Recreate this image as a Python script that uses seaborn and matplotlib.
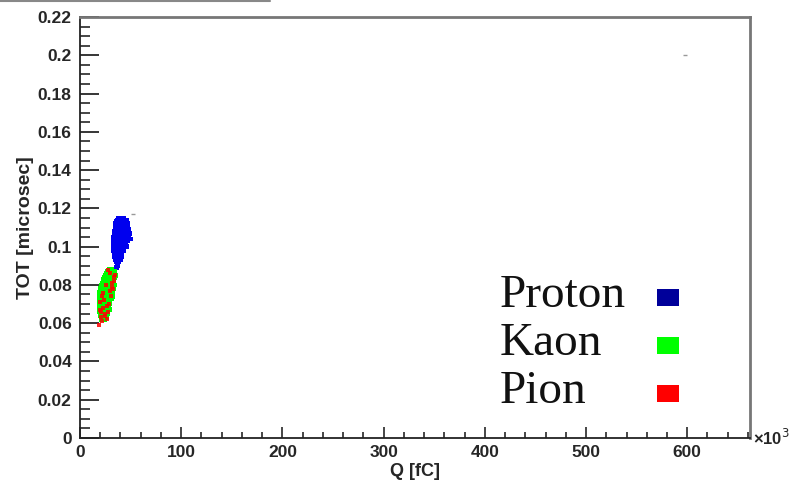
import numpy as np
import pandas as pd
import matplotlib
matplotlib.use("Agg")
import matplotlib.pyplot as plt
from matplotlib.lines import Line2D
from matplotlib.patches import Rectangle
from matplotlib.ticker import MultipleLocator, FormatStrFormatter
import seaborn as sns

# Proton cluster: TOT level [microsec] -> Q values [x10^3 fC]
proton_tot = [0.115, 0.114, 0.113, 0.112, 0.111, 0.110, 0.109, 0.108, 0.107, 0.106,
              0.105, 0.104, 0.103, 0.102, 0.101, 0.100, 0.099, 0.098, 0.097, 0.096,
              0.095, 0.094, 0.093, 0.092, 0.091, 0.090, 0.089]
proton_q = [[38, 40.5, 43], [36.5, 39, 41.5, 44, 46], [36, 38.5, 41, 43.5, 46.5],
            [35, 37.5, 40, 42.5, 45, 47.5], [35.5, 38, 40.5, 43, 45.5],
            [34.5, 37, 39.5, 42, 44.5, 47], [35, 37.5, 40, 42.5, 45, 48],
            [34, 36.5, 39, 41.5, 44, 46.5], [33.5, 36, 38.5, 41, 43.5, 46, 49],
            [34, 36.5, 39, 41.5, 44, 47], [33, 35.5, 38, 40.5, 43, 45.5, 48.5],
            [33.5, 36, 38.5, 41, 43.5, 46, 50], [32.5, 35, 37.5, 40, 42.5, 45, 47.5],
            [33, 35.5, 38, 40.5, 43, 45.5], [32.5, 35, 37.5, 40, 42.5, 45],
            [33, 35.5, 38, 40.5, 43, 46], [33.5, 36, 38.5, 41, 43.5],
            [33, 35.5, 38, 40.5, 43], [34, 36.5, 39, 41.5], [33.5, 36, 38.5, 41],
            [34, 36.5, 39, 41.5], [34.5, 37, 39.5], [35, 37.5, 40], [36, 38.5],
            [36.5], [37], [36]]

# Kaon cluster
kaon_tot = [0.088, 0.087, 0.086, 0.085, 0.084, 0.083, 0.082, 0.081, 0.080, 0.079,
            0.078, 0.077, 0.076, 0.075, 0.074, 0.073, 0.072, 0.071, 0.070, 0.069,
            0.068, 0.067, 0.066, 0.065, 0.064, 0.063, 0.062]
kaon_q = [[29, 31.5], [26.5, 29, 31.5, 34], [25.5, 28, 30.5, 33],
          [25, 27.5, 30, 32.5, 35], [24, 26.5, 29, 31.5, 34], [23.5, 26, 28.5, 31, 33.5],
          [23, 25.5, 28, 30.5, 33], [22.5, 25, 27.5, 30, 32.5],
          [21.5, 24, 26.5, 29, 31.5, 34], [21, 23.5, 26, 28.5, 31, 33],
          [20.5, 23, 25.5, 28, 30.5, 33], [20, 22.5, 25, 27.5, 30, 32],
          [19.5, 22, 24.5, 27, 29.5, 32], [19, 21.5, 24, 26.5, 29, 31.5],
          [19.5, 22, 24.5, 27, 29.5, 32], [19, 21.5, 24, 26.5, 29, 31],
          [19.5, 22, 24.5, 27, 29.5], [19, 21.5, 24, 26.5, 29],
          [19.5, 22, 24.5, 27, 29.5], [19, 21.5, 24, 26.5, 28.5],
          [19.5, 22, 24.5, 27], [19, 21.5, 24, 26.5, 29], [19.5, 22, 24.5, 27],
          [20, 22.5, 25, 27.5], [20.5, 23, 25.5], [21, 23.5, 26], [21.5, 24]]

# Pion hits (scattered over the kaon band)
pion_q = [19, 20.5, 22, 21, 23, 25, 27.5, 29, 31, 33, 34, 30, 28, 26, 24, 20,
          22.5, 32, 33.5, 29.5, 26.5, 24.5, 21.5, 27, 35, 31.5, 20]
pion_tot = [0.059, 0.063, 0.061, 0.066, 0.068, 0.064, 0.066, 0.070, 0.074, 0.078,
            0.082, 0.086, 0.088, 0.080, 0.072, 0.071, 0.076, 0.081, 0.084, 0.077,
            0.069, 0.065, 0.074, 0.062, 0.085, 0.079, 0.067]

# stray hits
stray_q = [52, 598]
stray_tot = [0.117, 0.200]

species = ["Proton", "Kaon", "Pion"]
colors = {"Proton": "#0000ee", "Kaon": "#00ff00", "Pion": "#ff0000"}
legend_colors = ["#00009a", "#00ff00", "#ff0000"]


def expand(levels, rows):
    q, t = [], []
    for lev, row in zip(levels, rows):
        q += row
        t += [lev] * len(row)
    return q, t


pq, pt = expand(proton_tot, proton_q)
kq, kt = expand(kaon_tot, kaon_q)
df = pd.DataFrame({
    "Q": pq + kq,
    "TOT": pt + kt,
    "particle": ["Proton"] * len(pq) + ["Kaon"] * len(kq),
})
pions = pd.DataFrame({"Q": pion_q, "TOT": pion_tot, "particle": "Pion"})

sns.set_style("white")
plt.rcParams["font.family"] = ["Liberation Sans", "DejaVu Sans"]

fig = plt.figure(figsize=(7.95, 4.82), dpi=100)
ax = fig.add_axes([80 / 795, 44 / 482, 670 / 795, 421 / 482])

sns.scatterplot(data=df, x="Q", y="TOT", hue="particle", palette=colors,
                marker="s", s=11, linewidth=0, legend=False, ax=ax)
sns.scatterplot(data=pions, x="Q", y="TOT", color=colors["Pion"], marker="s",
                s=6, linewidth=0, alpha=0.85, legend=False, ax=ax)
ax.scatter(stray_q, stray_tot, marker="_", s=12, color="#999999", linewidths=1)

ax.set_xlim(0, 662)
ax.set_ylim(0, 0.22)

ax.yaxis.set_major_locator(MultipleLocator(0.02))
ax.yaxis.set_minor_locator(MultipleLocator(0.005))
ax.xaxis.set_major_locator(MultipleLocator(100))
ax.xaxis.set_minor_locator(MultipleLocator(20))
ax.yaxis.set_major_formatter(FormatStrFormatter("%g"))

ax.tick_params(axis="y", which="major", direction="in", length=14, width=1.3,
               pad=6, labelsize=12.5, left=True, right=False)
ax.tick_params(axis="y", which="minor", direction="in", length=7, width=1.2,
               left=True, right=False)
ax.tick_params(axis="x", which="major", direction="in", length=8, width=1.2,
               pad=5, labelsize=12.5, bottom=True, top=False)
ax.tick_params(axis="x", which="minor", direction="in", length=4, width=1.2,
               bottom=True, top=False)
for lab in ax.get_xticklabels() + ax.get_yticklabels():
    lab.set_fontweight("bold")

for side in ["left", "bottom"]:
    ax.spines[side].set_color("#222222")
    ax.spines[side].set_linewidth(1.3)
for side in ["top", "right"]:
    ax.spines[side].set_color("#777777")
    ax.spines[side].set_linewidth(2)

ax.set_xlabel("Q [fC]", fontsize=13, fontweight="bold", labelpad=2)
ax.set_ylabel("TOT [microsec]", fontsize=14, fontweight="bold", labelpad=3)
ax.text(1.005, 0.0, "\u00d710$^3$", transform=ax.transAxes, fontsize=12,
        fontweight="bold", va="center", ha="left")

# legend: serif labels with coloured squares to the right
W, H = 795, 482
baselines = [307, 355, 403]
for name, c, yb in zip(species, legend_colors, baselines):
    fig.text(500 / W, 1 - yb / H, name, family="Liberation Serif", fontsize=34,
             va="baseline", ha="left", color="#111111")
    fig.add_artist(Rectangle((657 / W, 1 - (yb - 1) / H), 22 / W, 17 / H,
                             facecolor=c, edgecolor="none",
                             transform=fig.transFigure))

# cut-off frame line at the very top of the picture
fig.add_artist(Line2D([0, 270 / 795], [0.998, 0.998], color="#888888", lw=1.5,
                      transform=fig.transFigure))

fig.savefig("out.png", dpi=100)
